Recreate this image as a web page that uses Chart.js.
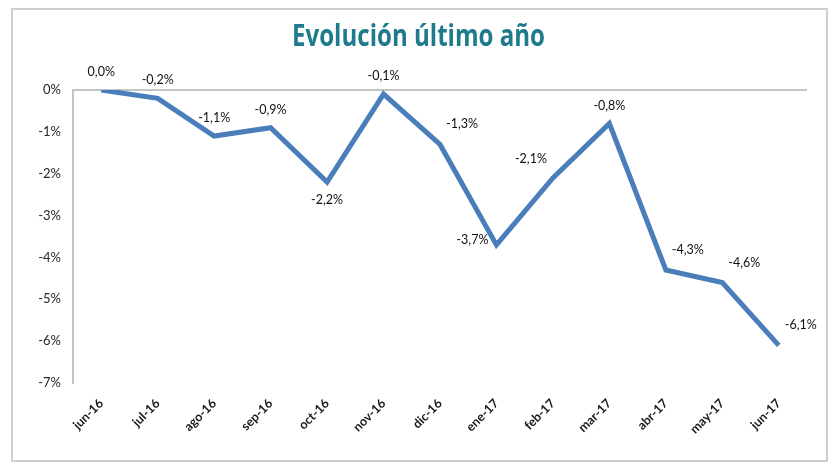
<!DOCTYPE html>
<html>
<head>
<meta charset="utf-8">
<script src="https://cdn.jsdelivr.net/npm/chart.js@4.4.1/dist/chart.umd.min.js"></script>
<style>
  html, body { margin: 0; padding: 0; background: #fff; }
  #wrap { position: relative; width: 837px; height: 471px; }
  #frame { position: absolute; left: 11px; top: 8px; width: 813px; height: 450px; border: 2px solid #cfcfcf; pointer-events: none; }
</style>
</head>
<body>
<div id="wrap">
  <canvas id="chart" width="837" height="471"></canvas>
  <div id="frame"></div>
</div>
<script>
const meses = ['jun-16', 'jul-16', 'ago-16', 'sep-16', 'oct-16', 'nov-16', 'dic-16',
               'ene-17', 'feb-17', 'mar-17', 'abr-17', 'may-17', 'jun-17'];
const evolucion = [0.0, -0.2, -1.1, -0.9, -2.2, -0.1, -1.3, -3.7, -2.1, -0.8, -4.3, -4.6, -6.1];

// donde va cada etiqueta respecto a su punto
const posEtiqueta = ['top', 'top', 'top', 'top', 'bottom', 'top', 'topright',
                     'left', 'topleft', 'top', 'topright', 'topright', 'topright'];

const formato = v => v.toFixed(1).replace('.', ',') + '%';

// titulo dibujado a mano para poder estrecharlo como en el original
const tituloPlugin = {
    id: 'titulo',
    afterDraw(chart) {
        const ctx = chart.ctx;
        const texto = 'Evolución último año';
        ctx.save();
        ctx.font = 'bold 30px "Open Sans"';
        ctx.fillStyle = '#1f7b8c';
        ctx.textBaseline = 'alphabetic';
        ctx.textAlign = 'left';
        const w = ctx.measureText(texto).width;
        const ancho = 253;
        ctx.translate(292, 46);
        ctx.scale(ancho / w, 1);
        ctx.fillText(texto, 0, 0);
        ctx.restore();
    }
};

// etiquetas de valor sobre los puntos
const etiquetasPlugin = {
    id: 'etiquetas',
    afterDatasetsDraw(chart) {
        const ctx = chart.ctx;
        const meta = chart.getDatasetMeta(0);
        ctx.save();
        ctx.font = '12.5px Lato';
        ctx.fillStyle = '#111';
        ctx.textBaseline = 'middle';
        meta.data.forEach((pt, i) => {
            const txt = formato(evolucion[i]);
            let dx = 0, dy = -18, align = 'center';
            switch (posEtiqueta[i]) {
                case 'bottom': dy = 18; break;
                case 'left': dx = -8; dy = -5; align = 'right'; break;
                case 'topright': dx = 6; dy = -20; align = 'left'; break;
                case 'topleft': dx = -6; dy = -19; align = 'right'; break;
            }
            ctx.textAlign = align;
            ctx.fillText(txt, pt.x + dx, pt.y + dy);
        });
        ctx.restore();
    }
};

new Chart(document.getElementById('chart'), {
    type: 'line',
    data: {
        labels: meses,
        datasets: [{
            data: evolucion,
            borderColor: '#4a7ebb',
            borderWidth: 5,
            pointRadius: 0,
            tension: 0,
            fill: false
        }]
    },
    options: {
        responsive: false,
        animation: false,
        layout: { padding: { top: 90, right: 30, bottom: 0, left: 0 } },
        plugins: {
            legend: { display: false },
            title: { display: false },
            tooltip: { enabled: false }
        },
        scales: {
            x: {
                offset: true,
                grid: { display: false, drawTicks: false },
                border: { display: false },
                ticks: {
                    minRotation: 45,
                    maxRotation: 45,
                    padding: 13,
                    color: '#1a1a1a',
                    font: { family: 'Lato', size: 12.5, weight: 'bold' }
                },
                afterFit(scale) { scale.height = 88; }
            },
            y: {
                min: -7,
                max: 0,
                ticks: {
                    stepSize: 1,
                    padding: 12,
                    color: '#262626',
                    font: { family: 'Lato', size: 13 },
                    callback: v => v + '%'
                },
                grid: {
                    drawTicks: false,
                    lineWidth: 2,
                    color: c => (c.tick && c.tick.value === 0) ? '#c4c4c4' : 'rgba(0,0,0,0)'
                },
                border: { display: true, color: '#c4c4c4', width: 2 },
                afterFit(scale) { scale.width = 73; }
            }
        }
    },
    plugins: [tituloPlugin, etiquetasPlugin]
});
</script>
</body>
</html>
